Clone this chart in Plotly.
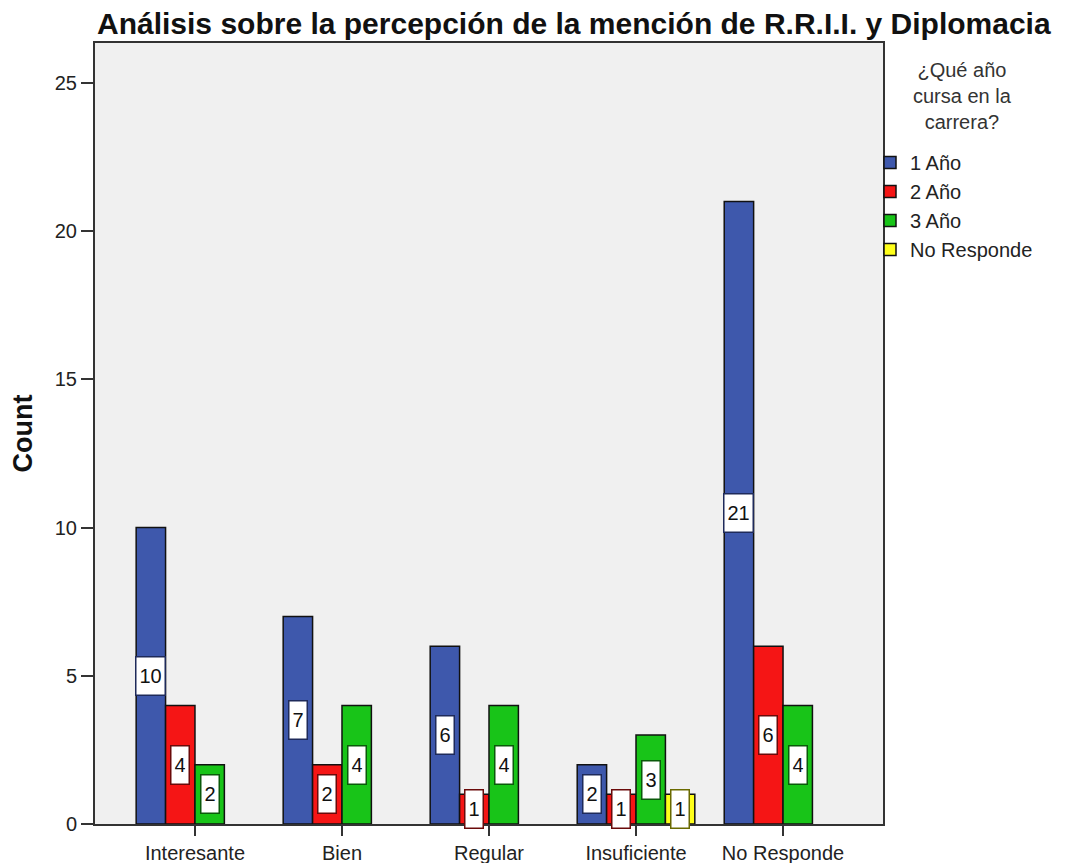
import plotly.graph_objects as go

categories = ["Interesante", "Bien", "Regular", "Insuficiente", "No Responde"]
series_names = ["1 Año", "2 Año", "3 Año", "No Responde"]
anio1 = [10, 7, 6, 2, 21]
anio2 = [4, 2, 1, 1, 6]
anio3 = [2, 4, 4, 3, 4]
no_responde = [None, None, None, 1, None]
series_values = [anio1, anio2, anio3, no_responde]
y_ticks = [0, 5, 10, 15, 20, 25]
legend_title = "¿Qué año<br>cursa en la<br>carrera?"

colors = ["#3E58AC", "#F51515", "#18C418", "#FFFF1A"]
label_borders = ["#1E2A5A", "#6A0A0A", "#0A5A0A", "#6A6A00"]

FONT = "Liberation Sans, Arial, sans-serif"

# The page body has an 8px margin, so the figure is laid out in its own coords
W, H = 1063, 855
PL, PR, PT, PB = 87, 875, 35, 816   # plot area edges in figure pixels


def px_x(x):
    return (x - PL) / (PR - PL)


def px_y(y):
    return (PB - y) / (PB - PT)


fig = go.Figure()
for name, vals, col in zip(series_names, series_values, colors):
    fig.add_trace(go.Bar(
        x=categories, y=vals, name=name,
        marker=dict(color=col, line=dict(color="#111111", width=1.5)),
    ))

# value labels (white boxes in the middle of each bar)
n = len(series_names)
bar_w = 0.8 / n
annotations = []
for si, vals in enumerate(series_values):
    off = -0.4 + bar_w * (si + 0.5)
    for ci, v in enumerate(vals):
        if v is None:
            continue
        txt = str(v)
        annotations.append(dict(
            x=ci + off, y=v / 2, xref="x", yref="y", text=txt, showarrow=False,
            font=dict(family=FONT, size=20, color="#111111"),
            bgcolor="white", bordercolor=label_borders[si], borderwidth=1.5,
            borderpad=3, width=11 * len(txt), height=31,
        ))

# legend title (centered, multi-line)
annotations.append(dict(
    x=px_x(954), y=px_y(88), xref="paper", yref="paper",
    xanchor="center", yanchor="middle", align="center", showarrow=False,
    text=legend_title, font=dict(family=FONT, size=20, color="#333333"),
))

fig.update_layout(
    width=W, height=H,
    margin=dict(l=PL, r=W - PR, t=PT, b=H - PB, autoexpand=False),
    paper_bgcolor="white", plot_bgcolor="#F0F0F0",
    barmode="group", bargap=0.2, bargroupgap=0,
    title=dict(
        text="<b>Análisis sobre la percepción de la mención de R.R.I.I. y Diplomacia</b>",
        font=dict(family=FONT, size=30, color="#111111"),
        x=89 / W, xanchor="left", xref="container",
        y=1 - 15 / H, yanchor="middle", yref="container",
    ),
    xaxis=dict(
        range=[-0.68, 4.68], showgrid=False, zeroline=False,
        showline=True, linecolor="#333333", linewidth=2, mirror=True,
        ticks="outside", ticklen=10, tickwidth=2, tickcolor="#333333",
        tickfont=dict(family=FONT, size=20, color="#222222"),
    ),
    yaxis=dict(
        range=[0, 26.35], showgrid=False, zeroline=False,
        tickvals=y_ticks, ticktext=[str(t) for t in y_ticks],
        showline=True, linecolor="#333333", linewidth=2, mirror=True,
        ticks="outside", ticklen=12, tickwidth=2, tickcolor="#333333",
        tickfont=dict(family=FONT, size=20, color="#222222"),
        title=dict(text="<b>Count</b>", font=dict(family=FONT, size=27, color="#111111"), standoff=20),
    ),
    legend=dict(
        x=px_x(862), xanchor="left", y=px_y(135), yanchor="top",
        bgcolor="rgba(0,0,0,0)",
        font=dict(family=FONT, size=20, color="#222222"),
        traceorder="normal",
    ),
    annotations=annotations,
    showlegend=True,
)

fig.write_html("out.html")
